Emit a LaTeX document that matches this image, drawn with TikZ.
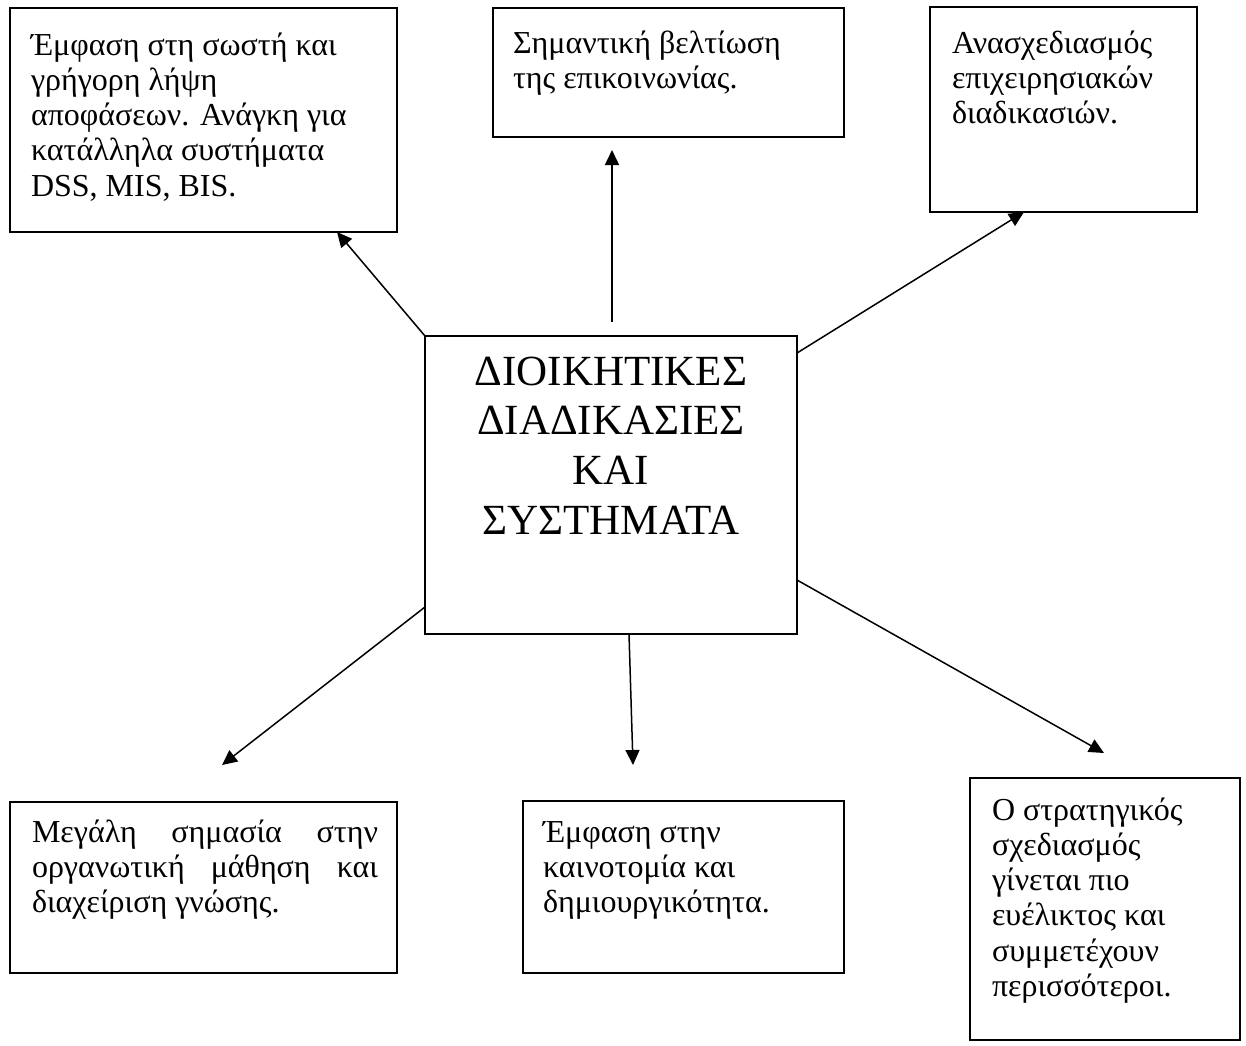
\documentclass[tikz,border=0pt]{standalone}
\usepackage{fontspec}
\setmainfont{Liberation Serif}
\usetikzlibrary{arrows.meta,calc}
\pgfdeclarelayer{bg}
\pgfsetlayers{bg,main}
\tikzset{
  box/.style={draw, line width=1.8pt, fill=white, inner sep=0pt, outer sep=0pt, anchor=north west},
  txt/.style={anchor=base west, inner sep=0pt, outer sep=0pt, font=\fontsize{32}{35.3}\selectfont},
  bigtxt/.style={anchor=base, inner sep=0pt, outer sep=0pt, font=\fontsize{43}{49.7}\selectfont},
  arr/.style={line width=1.5pt, -{Triangle[length=15pt,width=14pt]}},
}
\begin{document}
\begin{tikzpicture}[x=1pt,y=-1pt]
\useasboundingbox (0,0) rectangle (1246,1045);
% boxes
\node[box, minimum width=372pt, minimum height=298pt] (c) at (425,336) {};
\node[box, minimum width=387pt, minimum height=224pt] (b1) at (10,8) {};
\node[box, minimum width=351pt, minimum height=129pt] (b2) at (493,8) {};
\node[box, minimum width=267pt, minimum height=205pt] (b3) at (930,7) {};
\node[box, minimum width=387pt, minimum height=171pt] (b4) at (10,802) {};
\node[box, minimum width=321pt, minimum height=172pt] (b5) at (523,801) {};
\node[box, minimum width=270pt, minimum height=262pt] (b6) at (970,778) {};
% texts
\node[bigtxt] (ct) at (611,385) {\parbox[t]{372pt}{\centering ΔΙΟΙΚΗΤΙΚΕΣ\\ΔΙΑΔΙΚΑΣΙΕΣ\\ΚΑΙ\\ΣΥΣΤΗΜΑΤΑ}};
\node[txt] (t1) at (31,55) {\parbox[t]{380pt}{Έμφαση στη σωστή και\\γρήγορη λήψη\\αποφάσεων. Ανάγκη για\\κατάλληλα συστήματα\\DSS, MIS, BIS.}};
\node[txt] (t2) at (513,53) {\parbox[t]{330pt}{Σημαντική βελτίωση\\της επικοινωνίας.}};
\node[txt] (t3) at (952,53) {\parbox[t]{260pt}{Ανασχεδιασμός\\επιχειρησιακών\\διαδικασιών.}};
\node[txt] (t4) at (32,842) {\parbox[t]{346pt}{Μεγάλη σημασία στην\linebreak οργανωτική μάθηση και\linebreak διαχείριση γνώσης.}};
\node[txt] (t5) at (543,842) {\parbox[t]{290pt}{Έμφαση στην\\καινοτομία και\\δημιουργικότητα.}};
\node[txt] (t6) at (992,820) {\parbox[t]{260pt}{Ο στρατηγικός\\σχεδιασμός\\γίνεται πιο\\ευέλικτος και\\συμμετέχουν\\περισσότεροι.}};
% free arrow ends
\coordinate (s2) at (612,322);
\coordinate (e2) at (612,150);
\coordinate (e4) at (222,765);
\coordinate (e5) at (633,765);
\coordinate (e6) at (1104,753);
% connectors
\begin{pgfonlayer}{bg}
\draw[arr] (c.north west) -- ([xshift=133.5pt]b1.south);
\draw[arr] (s2) -- (e2);
\draw[arr] ([yshift=-17pt]c.north east) -- ([xshift=-39.5pt]b3.south);
\draw[arr] ([yshift=27pt]c.south west) -- (e4);
\draw[arr] ([xshift=18pt]c.south) -- (e5);
\draw[arr] ([yshift=54pt]c.south east) -- (e6);
\end{pgfonlayer}
\end{tikzpicture}
\end{document}
